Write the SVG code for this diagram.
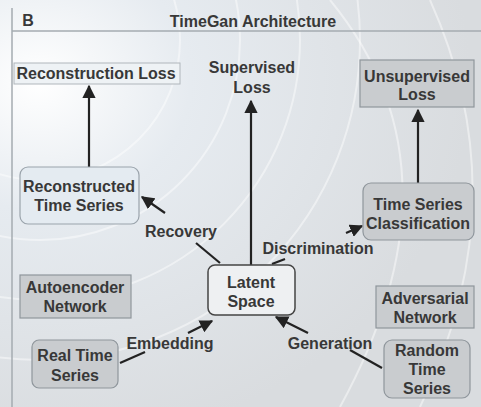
<svg xmlns="http://www.w3.org/2000/svg" width="481" height="407" viewBox="0 0 481 407">
<defs>
<radialGradient id="glow" cx="0.08" cy="0.2" r="0.9">
<stop offset="0" stop-color="#ffffff"/>
<stop offset="0.35" stop-color="#e6ebf0"/>
<stop offset="1" stop-color="#d9dcdf"/>
</radialGradient>
<marker id="ah" viewBox="0 0 10 10" refX="9" refY="5" markerWidth="6" markerHeight="6" orient="auto-start-reverse">
<path d="M0,0 L10,5 L0,10 z" fill="#222"/>
</marker>
</defs>
<style>
text{font-family:"Liberation Sans",Arial,sans-serif;font-weight:bold;font-size:16px;fill:#383838;text-anchor:middle}
.c{stroke:#222;stroke-width:2.2;fill:none}
.rb{fill:#e4ebf1;stroke:#9aa3ab;stroke-width:1.2}
.gb{fill:#c9cccf;stroke:#8f969c;stroke-width:1.2}
.wb{fill:#eef0f2;stroke:#444;stroke-width:1.5}
</style>
<rect width="481" height="407" fill="url(#glow)"/>
<g fill="none" stroke="#ffffff" stroke-opacity="0.45" stroke-width="2">
<circle cx="40" cy="40" r="140"/>
<circle cx="40" cy="40" r="200"/>
<circle cx="40" cy="40" r="260"/>
<circle cx="40" cy="40" r="320"/>
<path d="M330,0 Q470,170 340,407"/>
<path d="M430,0 Q520,200 420,407"/>
</g>
<g id="frame">
<line x1="12" y1="8" x2="12" y2="407" stroke="#a5abb1" stroke-width="1.5"/>
<line x1="12" y1="31" x2="481" y2="31" stroke="#a5abb1" stroke-width="1.5"/>
<text x="28" y="26">B</text>
<text x="253" y="27">TimeGan Architecture</text>
</g>
<g id="connectors">
<line class="c" x1="89" y1="167" x2="89" y2="86" marker-end="url(#ah)"/>
<line class="c" x1="251" y1="265" x2="251" y2="101" marker-end="url(#ah)"/>
<line class="c" x1="418" y1="183" x2="418" y2="110" marker-end="url(#ah)"/>
<line class="c" x1="220" y1="263" x2="196" y2="243"/>
<line class="c" x1="165" y1="213" x2="142" y2="197" marker-end="url(#ah)"/>
<line class="c" x1="272" y1="264" x2="285" y2="259"/>
<line class="c" x1="346" y1="233" x2="362" y2="226" marker-end="url(#ah)"/>
<line class="c" x1="120" y1="363" x2="145" y2="352"/>
<line class="c" x1="188" y1="333" x2="212" y2="321" marker-end="url(#ah)"/>
<line class="c" x1="382" y1="368" x2="350" y2="350"/>
<line class="c" x1="308" y1="333" x2="276" y2="317" marker-end="url(#ah)"/>
<text x="181" y="237">Recovery</text>
<text x="318" y="254">Discrimination</text>
<text x="170" y="349">Embedding</text>
<text x="330" y="349">Generation</text>
</g>
<g id="recon-loss">
<rect x="14" y="63" width="166" height="21" fill="#eef2f5" stroke="#b0b6bb" stroke-width="1"/>
<text x="96" y="79">Reconstruction Loss</text>
</g>
<g id="sup-loss">
<text x="252" y="73">Supervised</text>
<text x="252" y="93">Loss</text>
</g>
<g id="unsup-loss">
<rect x="360" y="60" width="114" height="47" class="gb"/>
<text x="417" y="82">Unsupervised</text>
<text x="417" y="100">Loss</text>
</g>
<g id="reconstructed">
<rect x="20" y="167" width="119" height="57" rx="8" class="rb"/>
<text x="79" y="192">Reconstructed</text>
<text x="79" y="211">Time Series</text>
</g>
<g id="classification">
<rect x="363" y="183" width="111" height="57" rx="8" class="gb"/>
<text x="418" y="210">Time Series</text>
<text x="418" y="229">Classification</text>
</g>
<g id="latent">
<rect x="208" y="265" width="87" height="50" rx="7" class="wb"/>
<text x="251" y="288">Latent</text>
<text x="251" y="307">Space</text>
</g>
<g id="autoencoder">
<rect x="20" y="275" width="111" height="43" class="gb"/>
<text x="75" y="293">Autoencoder</text>
<text x="75" y="312">Network</text>
</g>
<g id="adversarial">
<rect x="376" y="286" width="98" height="42" class="gb"/>
<text x="425" y="304">Adversarial</text>
<text x="425" y="323">Network</text>
</g>
<g id="real">
<rect x="32" y="340" width="86" height="48" rx="7" class="gb"/>
<text x="75" y="361">Real Time</text>
<text x="75" y="381">Series</text>
</g>
<g id="random">
<rect x="384" y="340" width="86" height="58" rx="8" class="gb"/>
<text x="427" y="356">Random</text>
<text x="427" y="375">Time</text>
<text x="427" y="394">Series</text>
</g>
</svg>
